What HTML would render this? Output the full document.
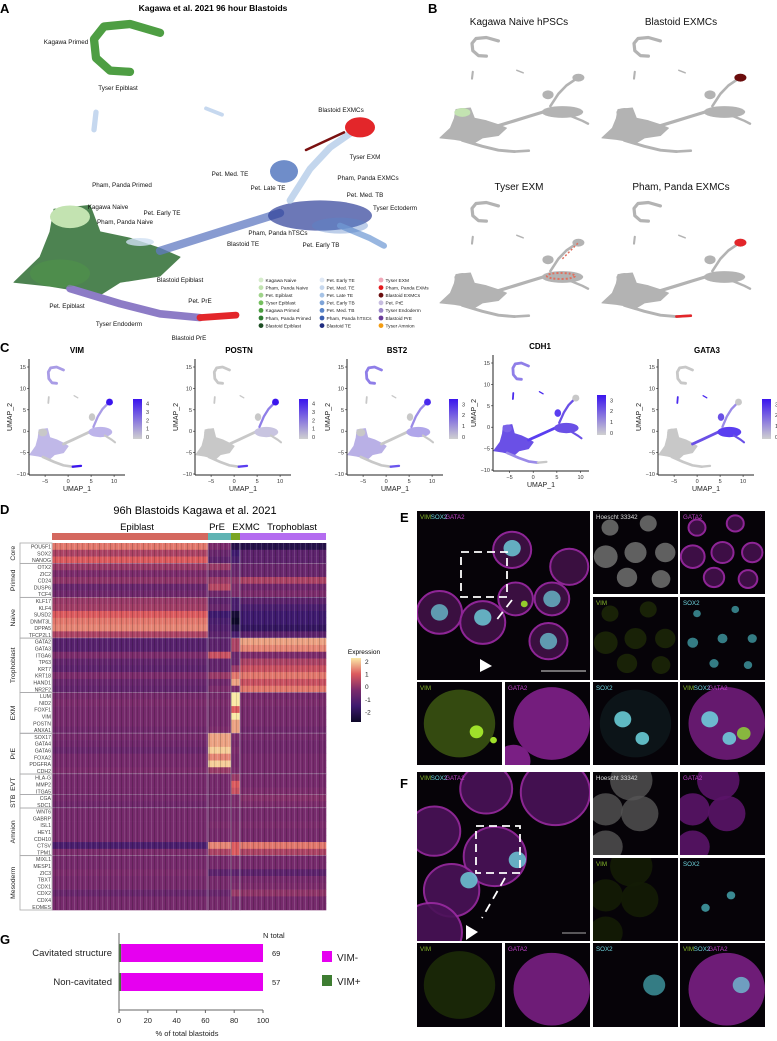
<!DOCTYPE html>
<html><head><meta charset="utf-8">
<style>
html,body{margin:0;padding:0;background:#fff;}
svg{display:block;font-family:"Liberation Sans",Arial,sans-serif;}
</style></head>
<body>
<svg id="root" width="777" height="1041" viewBox="0 0 777 1041" xmlns="http://www.w3.org/2000/svg">
<defs>
<pattern id="stripes" width="11" height="10" patternUnits="userSpaceOnUse">
<rect x="0" y="0" width="1" height="10" fill="#000" opacity="0.18"/>
<rect x="3" y="0" width="1" height="10" fill="#fff" opacity="0.10"/>
<rect x="5" y="0" width="1" height="10" fill="#000" opacity="0.12"/>
<rect x="8" y="0" width="1" height="10" fill="#fff" opacity="0.14"/>
</pattern>
<linearGradient id="cbar" x1="0" y1="1" x2="0" y2="0"><stop offset="0" stop-color="#d0d0d0"/><stop offset="1" stop-color="#3a14ee"/></linearGradient>
<linearGradient id="hbar" x1="0" y1="1" x2="0" y2="0"><stop offset="0" stop-color="#0d0828"/><stop offset="0.25" stop-color="#3e1a6e"/><stop offset="0.5" stop-color="#7c2c6c"/><stop offset="0.75" stop-color="#dc5a5e"/><stop offset="1" stop-color="#fbeaa6"/></linearGradient>
</defs>
<g id="panelA"></g>
<g id="panelB"></g>
<g id="panelC"></g>
<g id="panelD"></g>
<g id="panelEF"></g>
<g id="panelG"></g>
</svg>
<script>
const NS="http://www.w3.org/2000/svg";
function mk(parent,tag,attrs,text){const e=document.createElementNS(NS,tag);for(const k in attrs)e.setAttribute(k,attrs[k]);if(text!==undefined)e.textContent=text;parent.appendChild(e);return e;}

const umapParts=[
 {id:'arc',type:'line',w:0.55,pts:[[-1,14.3],[-2.5,15],[-3.8,14.8],[-4.3,13.8],[-4.2,12.3],[-3.5,11.3],[-2.5,11.2]]},
 {id:'epi7',type:'line',w:0.35,pts:[[-4.2,8],[-4.3,6.6]]},
 {id:'streak',type:'line',w:0.25,pts:[[1.3,8.3],[2.1,7.8]]},
 {id:'mass',type:'poly',pts:[[-8.3,-5.5],[-7,-3.5],[-6.5,-1.5],[-6.3,0.3],[-4.5,0.6],[-4,-1.5],[-2.5,-2],[-1,-2.8],[0,-3.5],[-1,-5],[-3,-5.5],[-4,-6.5],[-5,-6.2],[-6.5,-5.8]]},
 {id:'naive',type:'ell',c:[-5.5,-0.3],rx:1.0,ry:0.9},
 {id:'trail',type:'line',w:0.55,pts:[[-1,-3],[1,-2],[3,-1],[5,0]]},
 {id:'tbmass',type:'ell',c:[7,-0.2],rx:2.6,ry:1.2},
 {id:'tbtail',type:'line',w:0.4,pts:[[8,-1],[9.5,-2],[10.2,-2.6]]},
 {id:'up',type:'line',w:0.45,pts:[[5.5,1],[6.5,3.5],[7.5,5.2],[8.5,6.3]]},
 {id:'loop',type:'ell',c:[5.2,3.3],rx:0.7,ry:0.9},
 {id:'exmc',type:'ell',c:[9,6.8],rx:0.75,ry:0.8},
 {id:'prE',type:'line',w:0.5,pts:[[-5.5,-6],[-3,-7.2],[-1,-8],[1,-8.3]]},
 {id:'prEend',type:'line',w:0.45,pts:[[1,-8.3],[2.8,-8.1]]}
];
function drawUmap(g,T,colorOf,op){
 umapParts.forEach(p=>{
  const col=colorOf(p.id); if(!col) return;
  const o=op?op(p.id):1;
  if(p.type==='line'){
   const d=p.pts.map((q,i)=>(i?'L':'M')+T.x(q[0]).toFixed(1)+' '+T.y(q[1]).toFixed(1)).join(' ');
   const e=mk(g,'path',{d:d,fill:'none',stroke:col,opacity:o,'stroke-width':(p.w*Math.min(T.sx,T.sy)*1.2).toFixed(1),'stroke-linecap':'round','stroke-linejoin':'round'});
   
   
  } else if(p.type==='poly'){
   const e=mk(g,'polygon',{points:p.pts.map(q=>T.x(q[0]).toFixed(1)+','+T.y(q[1]).toFixed(1)).join(' '),fill:col,opacity:o,stroke:col,'stroke-width':1,'stroke-linejoin':'round'});
   
   
  } else {
   const e=mk(g,'ellipse',{cx:T.x(p.c[0]),cy:T.y(p.c[1]),rx:p.rx*T.sx,ry:p.ry*T.sy,fill:col,opacity:o});
   
   
  }
 });
}
function mkT(x0,sx,y0,sy){return {sx:sx,sy:sy,x:u=>x0+sx*u,y:v=>y0-sy*v};}

// ---------- Panel A ----------
const A=document.getElementById('panelA');
mk(A,'text',{x:0,y:13,'font-size':13,'font-weight':'bold'},'A');
mk(A,'text',{x:213,y:11,'font-size':8.5,'font-weight':'bold','text-anchor':'middle'},'Kagawa et al. 2021 96 hour Blastoids');
const TA=mkT(180,20,213,12.6);
const aColors={arc:'#4e9e43',epi7:'#c6d8ef',streak:'#c6d8ef',mass:'#2f6e33',naive:'#c3e3b1',trail:'#6079c2',tbmass:'#2d3f99',tbtail:'#7ea4d8',up:'#b9cfea',loop:'#4b70bb',exmc:'#e3262a',prE:'#8d7cc6',prEend:'#e3262a'};
const aOp={mass:0.85,tbmass:0.7,trail:0.75,up:0.85,loop:0.8,tbtail:0.8};
drawUmap(A,TA,id=>aColors[id],id=>aOp[id]||1);
mk(A,'ellipse',{cx:TA.x(-6),cy:TA.y(-4.8),rx:30,ry:14,fill:'#4f9a48',opacity:0.45});
mk(A,'ellipse',{cx:TA.x(8),cy:TA.y(-1),rx:28,ry:8,fill:'#5a85c8',opacity:0.4});
mk(A,'path',{d:`M${TA.x(6.3)} ${TA.y(5)} L${TA.x(8.2)} ${TA.y(6.4)}`,stroke:'#7a1010','stroke-width':2.5,'stroke-linecap':'round'});
mk(A,'ellipse',{cx:TA.x(-2),cy:TA.y(-2.3),rx:14,ry:4,fill:'#cfe0f2',opacity:0.8});
const aLabels=[["Kagawa Primed",66,44],["Tyser Epiblast",118,90],["Blastoid EXMCs",341,112],["Tyser EXM",365,159],["Pham, Panda EXMCs",368,180],["Pet. Med. TE",230,176],["Pham, Panda Primed",122,187],["Pet. Late TE",268,190],["Pet. Med. TB",365,197],["Tyser Ectoderm",395,210],["Kagawa Naive",108,209],["Pet. Early TE",162,215],["Pham, Panda Naive",125,224],["Pham, Panda hTSCs",278,235],["Blastoid TE",243,246],["Pet. Early TB",321,247],["Blastoid Epiblast",180,282],["Pet. PrE",200,303],["Pet. Epiblast",67,308],["Tyser Endoderm",119,326],["Blastoid PrE",189,340]];
aLabels.forEach(l=>{const t=mk(A,'text',{x:l[1],y:l[2],'font-size':6.3,'text-anchor':'middle',fill:'#111'},l[0]);});
const legNames=[["Kagawa Naive","Pham, Panda Naive","Pet. Epiblast","Tyser Epiblast","Kagawa Primed","Pham, Panda Primed","Blastoid Epiblast"],["Pet. Early TE","Pet. Med. TE","Pet. Late TE","Pet. Early TB","Pet. Med. TB","Pham, Panda hTSCs","Blastoid TE"],["Tyser EXM","Pham, Panda EXMs","Blastoid EXMCs","Pet. PrE","Tyser Endoderm","Blastoid PrE","Tyser Amnion"]];
const legCols=[["#d6eccb","#c1e3b0","#9fd38a","#74bf5e","#4a9e40","#2f7d32","#1c4d23"],["#dfe8f5","#c5d7ee","#a6c3e6","#7ea4d8","#5a85c8","#3a5fb0","#1f2c80"],["#f0a8b8","#e41a1c","#6b0d0d","#c7bde0","#9a86c8","#6a3d9a","#f39c12"]];
const legX=[261,322,381];
legNames.forEach((col,ci)=>col.forEach((n,ri)=>{const y=280+ri*7.6;const c=mk(A,'circle',{cx:legX[ci],cy:y,r:2.4,fill:legCols[ci][ri]});const t=mk(A,'text',{x:legX[ci]+4.5,y:y+1.8,'font-size':4.8,fill:'#222'},n);}));

// ---------- Panel B ----------
const B=document.getElementById('panelB');
mk(B,'text',{x:428,y:13,'font-size':13,'font-weight':'bold'},'B');
const bPanels=[["Kagawa Naive hPSCs",0,0,{naive:'#c3e3b1'}],["Blastoid EXMCs",162,0,{exmc:'#6b0d0d'}],["Tyser EXM",0,165,{tbmass:'#e0705f',up:'#e0705f'}],["Pham, Panda EXMCs",162,165,{exmc:'#e3262a',prEend:'#e3262a'}]];
bPanels.forEach(p=>{
 const g=mk(B,'g',{});
 mk(g,'text',{x:519+p[1],y:25+p[2],'font-size':10,'text-anchor':'middle',fill:'#111'},p[0]);
 const T=mkT(440+p[1]+8.0*8.3,8.0,36+p[2]+4.9*15.3,4.9);
 drawUmap(g,T,id=>'#b3b3b3');
 const hl=p[3];
 if(hl.tbmass){mk(g,'ellipse',{cx:T.x(6.8),cy:T.y(0),rx:14,ry:3,fill:'none',stroke:'#e0705f','stroke-width':2,'stroke-dasharray':'2 2'});mk(g,'path',{d:`M${T.x(7)} ${T.y(3.5)} L${T.x(9)} ${T.y(6.8)}`,stroke:'#e0705f','stroke-width':1.5,'stroke-dasharray':'2 2'});}
 else drawUmap(g,T,id=>hl[id]);
});

// ---------- Panel C ----------
const C=document.getElementById('panelC');
mk(C,'text',{x:0,y:352,'font-size':13,'font-weight':'bold'},'C');
const cGenes=['VIM','POSTN','BST2','CDH1','GATA3'];
const cMax=[4,4,3,3,3];
const cAxisX=[29,195,347,493,658];
const cTitleX=[77,239,397,540,707];
const cTop=[367,367,367,363,367];
const cBar=[133,299,449,597,762];
const cHi=[
 {arc:'#a99ce6',mass:'#c0b8e8',exmc:'#3a14ee',prEend:'#3a14ee',tbmass:'#bdb4ea',up:'#a99ce6'},
 {exmc:'#3a14ee',prEend:'#5a3ef0',tbmass:'#c8c4e0',up:'#8f7ee8'},
 {arc:'#8f7ee8',mass:'#b9b0e6',exmc:'#4a2aee',prEend:'#6a55ee',up:'#9a8ae8',tbmass:'#b0a6ea'},
 {arc:'#8f7ee8',mass:'#6a50e6',epi7:'#4a2aee',streak:'#4a2aee',naive:'#7a62e8',trail:'#5a3ef0',tbmass:'#6a50e6',tbtail:'#6a50e6',up:'#6a50e6',loop:'#5a3ef0',prE:'#9a8ae8'},
 {epi7:'#4a2aee',streak:'#4a2aee',trail:'#6a50e6',tbmass:'#5a3ef0',tbtail:'#6a50e6',up:'#9a8ae8',loop:'#6a50e6'}
];
cGenes.forEach((gn,i)=>{
 const g=mk(C,'g',{});
 const ax=cAxisX[i],top=cTop[i],sy=4.28,bottom=top+25*sy+1,sx=(i===3?4.73:4.6);
 mk(g,'text',{x:cTitleX[i],y:cTop[i]-14,'font-size':8,'font-weight':'bold','text-anchor':'middle'},gn);
 const T=mkT(ax+sx*8.5,sx,top+15*sy,sy);
 drawUmap(g,T,id=>(cHi[i][id]||'#c8c8c8'));
 mk(g,'line',{x1:ax,y1:top-8,x2:ax,y2:bottom,stroke:'#222','stroke-width':1});
 mk(g,'line',{x1:ax,y1:bottom,x2:ax+96,y2:bottom,stroke:'#222','stroke-width':1});
 [15,10,5,0,-5,-10].forEach(v=>{const y=T.y(v);mk(g,'line',{x1:ax-2,y1:y,x2:ax,y2:y,stroke:'#222','stroke-width':0.6});mk(g,'text',{x:ax-3,y:y+2,'font-size':5.5,'text-anchor':'end',fill:'#333'},String(v).replace('-','−'));});
 [-5,0,5,10].forEach(v=>{const x=T.x(v);mk(g,'line',{x1:x,y1:bottom,x2:x,y2:bottom+2,stroke:'#222','stroke-width':0.6});mk(g,'text',{x:x,y:bottom+8,'font-size':5.5,'text-anchor':'middle',fill:'#333'},String(v).replace('-','−'));});
 mk(g,'text',{x:ax+48,y:bottom+16,'font-size':7,'text-anchor':'middle',fill:'#222'},'UMAP_1');
 mk(g,'text',{x:ax-17,y:top+50,'font-size':7,'text-anchor':'middle',fill:'#222',transform:`rotate(-90 ${ax-17} ${top+50})`},'UMAP_2');
 const cb=cBar[i],cy0=top+32,ch=40;
 mk(g,'rect',{x:cb,y:cy0,width:9,height:ch,fill:'url(#cbar)'});
 for(let v=0;v<=cMax[i];v++){const y=cy0+ch-2-v*(ch-4)/(cMax[i]+0.3);mk(g,'text',{x:cb+13,y:y+2,'font-size':5.5,fill:'#333'},String(v));}
});

// ---------- Panel D heatmap ----------
const D=document.getElementById('panelD');
const groupNames=['Epiblast','PrE','EXMC','Trophoblast'];
const cellCounts=[156,23,9,86];
const groupColors=['#d4685f','#5fb3b3','#7aa523','#b46cf0'];
const geneSets=[['Core',['POU5F1','SOX2','NANOG']],['Primed',['OTX2','ZIC2','CD24','DUSP6','TCF4']],['Naive',['KLF17','KLF4','SUSD2','DNMT3L','DPPA5','TFCP2L1']],['Trophoblast',['GATA2','GATA3','ITGA6','TP63','KRT7','KRT18','HAND1','NR2F2']],['EXM',['LUM','NID2','FOXF1','VIM','POSTN','ANXA1']],['PrE',['SOX17','GATA4','GATA6','FOXA2','PDGFRA','CDH2']],['EVT',['HLA-G','MMP2','ITGA5']],['STB',['CGA','SDC1']],['Amnion',['WNT6','GABRP','ISL1','HEY1','CDH10','CTSV','TPM1']],['Mesoderm',['MIXL1','MESP1','ZIC3','TBXT','CDX1','CDX2','CDX4','EOMES']]];
const exprValues=[
[1.2,0,-1.5,-1.5],[0.5,-0.3,-1,-0.5],[1,-0.5,-0.8,-0.5],
[0.3,0.3,-0.3,-0.3],[0,-0.2,-0.3,-0.3],[0.2,0.3,0.2,0.5],[-0.3,0.6,0,-0.2],[-0.2,-0.2,0,0],
[0.3,-0.5,-0.8,-0.5],[0.4,-0.3,-0.8,-0.8],[1,-1,-1.8,-1],[1.2,-0.8,-2,-1],[1.3,-0.7,-1.5,-1.2],[0.5,-0.5,-0.8,-0.5],
[-0.6,-0.5,0.5,1.5],[-0.6,-0.5,0.5,1.3],[0,0.8,-0.3,0],[-0.4,-0.4,-0.3,0.5],[-0.5,-0.4,0.3,0.8],[0,0.3,1.2,1.2],[-0.3,-0.2,1.5,0.8],[-0.4,0,0,1.2],
[-0.1,-0.1,2,-0.1],[0,0,2.3,0],[-0.1,-0.1,1,-0.1],[-0.1,-0.1,2.2,-0.1],[-0.1,-0.1,1.5,-0.1],[-0.2,0,1.5,-0.2],
[-0.1,1.5,0,-0.1],[-0.2,1.5,-0.1,-0.2],[-0.3,1.8,0,-0.2],[-0.1,1.3,-0.1,-0.1],[-0.1,1.8,-0.1,-0.1],[0,0.3,0,-0.1],
[-0.1,-0.1,0.3,-0.1],[-0.1,-0.1,1,-0.1],[-0.1,-0.1,0.8,0],
[-0.1,-0.1,0,0.1],[-0.2,-0.1,0,0],
[-0.1,-0.1,-0.1,-0.1],[-0.1,-0.1,-0.1,-0.1],[-0.1,0,0,0],[-0.1,-0.1,0,-0.1],[-0.1,-0.1,0,-0.1],[-0.8,1.3,1,1.2],[0,0.5,1,0.5],
[-0.1,-0.1,0,-0.1],[-0.1,-0.1,0,-0.1],[0,-0.5,-0.5,-0.5],[-0.1,-0.1,-0.1,-0.1],[-0.1,-0.1,0,0],[-0.3,-0.3,0.3,0.2],[-0.1,-0.1,-0.1,-0.1],[-0.1,-0.1,-0.1,-0.1]];
const expTicks=[2,1,0,-1,-2];
const stops=[[-2,[13,8,40]],[-1,[62,26,110]],[0,[124,44,108]],[1,[220,90,94]],[2,[251,234,166]]];
function cmap(v){v=Math.max(-2,Math.min(2,v));for(let i=0;i<4;i++){const a=stops[i],b=stops[i+1];if(v<=b[0]){const t=(v-a[0])/(b[0]-a[0]);return 'rgb('+a[1].map((c,k)=>Math.round(c+(b[1][k]-c)*t)).join(',')+')';}}return 'rgb(251,234,166)';}
mk(D,'text',{x:0,y:514,'font-size':13,'font-weight':'bold'},'D');
mk(D,'text',{x:195,y:514,'font-size':11,'text-anchor':'middle'},'96h Blastoids Kagawa et al. 2021');
const hx0=52,hx1=326,hy0=543,rowH=(910-543)/54;
const totalCells=cellCounts.reduce((a,b)=>a+b,0);
const colX=c=>hx0+(hx1-hx0)*c/totalCells;
const bounds=[0];cellCounts.forEach(c=>bounds.push(bounds[bounds.length-1]+c));
groupNames.forEach((n,i)=>{
 const r=mk(D,'rect',{x:colX(bounds[i]),y:533,width:colX(bounds[i+1])-colX(bounds[i]),height:7,fill:groupColors[i]});
});
const gLab=[['Epiblast',137],['PrE',217],['EXMC',246],['Trophoblast',292]];
gLab.forEach(l=>mk(D,'text',{x:l[1],y:530,'font-size':9.5,'text-anchor':'middle'},l[0]));
let row=0;
geneSets.forEach(([set,genes])=>{
 const yStart=hy0+row*rowH;
 genes.forEach(gn=>{
  const y=hy0+row*rowH;
  for(let gi=0;gi<4;gi++){
   const c=mk(D,'rect',{x:colX(bounds[gi]).toFixed(2),y:y.toFixed(2),width:(colX(bounds[gi+1])-colX(bounds[gi])+0.3).toFixed(2),height:(rowH+0.3).toFixed(2),fill:cmap(exprValues[row][gi])});
   
   
  }
  const t=mk(D,'text',{x:51,y:y+rowH-1.2,'font-size':5.2,'text-anchor':'end',fill:'#444'},gn);
  
  
  row++;
 });
 const yEnd=hy0+row*rowH;
 mk(D,'rect',{x:20,y:yStart,width:32,height:yEnd-yStart,fill:'none',stroke:'#aaa','stroke-width':0.8});
 const ym=(yStart+yEnd)/2;
 mk(D,'text',{x:15,y:ym,'font-size':6.8,'text-anchor':'middle',fill:'#222',transform:`rotate(-90 15 ${ym})`},set);
 if(row<54) mk(D,'line',{x1:20,y1:yEnd,x2:hx1,y2:yEnd,stroke:'#b9b9c6','stroke-width':0.8});
});
mk(D,'rect',{x:hx0,y:hy0,width:hx1-hx0,height:54*rowH,fill:'url(#stripes)'});
for(let i=1;i<4;i++) mk(D,'line',{x1:colX(bounds[i]),y1:hy0,x2:colX(bounds[i]),y2:910,stroke:'#a9a9b8','stroke-width':0.6});
mk(D,'text',{x:364,y:654,'font-size':6.5,'text-anchor':'middle'},'Expression');
mk(D,'rect',{x:351,y:658,width:10,height:64,fill:'url(#hbar)'});
expTicks.forEach((v,i)=>mk(D,'text',{x:365,y:664+i*12.6,'font-size':6.5,fill:'#222'},String(v)));

// ---------- Panels E & F ----------
const EF=document.getElementById('panelEF');
function tile(x,y,w,h,name,label,blobs){
 const g=mk(EF,'g',{});
 
 
 mk(g,'rect',{x:x,y:y,width:w,height:h,fill:'#060308'});
 const cp='c'+Math.round(x)+'_'+Math.round(y);
 const clip=mk(g,'clipPath',{id:cp});mk(clip,'rect',{x:x,y:y,width:w,height:h});
 const inner=mk(g,'g',{'clip-path':`url(#${cp})`});
 blobs.forEach(b=>{const e=mk(inner,'ellipse',{cx:x+b[0]*w,cy:y+b[1]*h,rx:b[2]*w,ry:b[2]*w*0.95,fill:b[3],opacity:b[4]===undefined?1:b[4]});if(b[5])e.setAttribute('stroke',b[5]),e.setAttribute('stroke-width',b[6]);});
 let lx=x+3;
 label.forEach(p=>{const t=mk(g,'text',{x:lx,y:y+8,'font-size':6.2,fill:p[1]},p[0]);lx+=p[0].length*3.6;});
 return g;
}
const CY='#6fd6e0';
const mergeLab=[['VIM','#86b82a'],['SOX2','#6fd6e0'],['GATA2','#c040c8']];
const eBlobs=[[0.55,0.23,0.11],[0.88,0.33,0.11],[0.13,0.6,0.13],[0.38,0.66,0.13],[0.57,0.52,0.1],[0.78,0.52,0.1],[0.76,0.77,0.11]];
function tint(bl,col,op,stroke){return bl.map(b=>[b[0],b[1],b[2],col,op,stroke,stroke?2:0]);}
tile(417,511,173,169,'e-merge-overview',mergeLab,[...tint(eBlobs,'#3a0f40',1,'#8e2596'),[0.55,0.22,0.05,CY,0.8],[0.38,0.63,0.05,CY,0.8],[0.13,0.6,0.05,CY,0.7],[0.78,0.52,0.05,CY,0.7],[0.76,0.77,0.05,CY,0.7],[0.62,0.55,0.02,'#9fe02a',0.9]]);
mk(EF,'rect',{x:461,y:552,width:46,height:45,fill:'none',stroke:'#fff','stroke-width':1.8,'stroke-dasharray':'8 5'});
mk(EF,'line',{x1:512,y1:600,x2:495,y2:622,stroke:'#fff','stroke-width':1.8,'stroke-dasharray':'9 6'});
mk(EF,'polygon',{points:'480,659 480,672 492,666',fill:'#fff'});
mk(EF,'line',{x1:541,y1:671,x2:586,y2:671,stroke:'#ddd','stroke-width':1});
const sBlobs=[[0.2,0.2,0.1],[0.65,0.15,0.1],[0.15,0.55,0.14],[0.5,0.5,0.13],[0.85,0.5,0.12],[0.4,0.8,0.12],[0.8,0.82,0.11]];
tile(593,511,85,83,'e-hoechst',[['Hoescht 33342','#ddd']],tint(sBlobs,'#6a6a6a',0.9));
tile(680,511,85,83,'e-gata2',[['GATA2','#c040c8']],tint(sBlobs,'#3d0e45',1,'#8e2596'));
tile(593,597,85,83,'e-vim',[['VIM','#86b82a']],tint(sBlobs,'#1c2608',0.9));
tile(680,597,85,83,'e-sox2',[['SOX2','#6fd6e0']],sBlobs.map(b=>[b[0],b[1],b[2]*0.45,'#3a8a92',0.9]));
tile(417,682,85,83,'e-zoom-vim',[['VIM','#86b82a']],[[0.5,0.5,0.42,'#3a5212',0.9],[0.7,0.6,0.08,'#9fe02a'],[0.9,0.7,0.04,'#9fe02a']]);
tile(505,682,85,83,'e-zoom-gata2',[['GATA2','#c040c8']],[[0.55,0.5,0.45,'#7a1f84',0.95],[0.1,0.95,0.2,'#7a1f84']]);
tile(593,682,85,83,'e-zoom-sox2',[['SOX2','#6fd6e0']],[[0.5,0.5,0.42,'#0c1418'],[0.35,0.45,0.1,CY,0.85],[0.58,0.68,0.08,CY,0.85]]);
tile(680,682,85,83,'e-zoom-merge',mergeLab,[[0.55,0.5,0.45,'#6a1a74',0.95],[0.35,0.45,0.1,CY,0.85],[0.58,0.68,0.08,CY,0.85],[0.75,0.62,0.08,'#8cc83a',0.9]]);
const fBlobs=[[0.8,0.12,0.2],[0.45,0.5,0.18],[0.2,0.7,0.16],[0.1,0.35,0.15],[0.08,0.95,0.18],[0.4,0.1,0.15]];
tile(417,772,173,169,'f-merge-overview',mergeLab,[...tint(fBlobs,'#4a1258',0.9,'#9a2aa2'),[0.58,0.52,0.05,CY,0.8],[0.3,0.64,0.05,CY,0.8]]);
mk(EF,'rect',{x:476,y:826,width:44,height:47,fill:'none',stroke:'#fff','stroke-width':1.8,'stroke-dasharray':'8 5'});
mk(EF,'line',{x1:505,y1:878,x2:482,y2:918,stroke:'#fff','stroke-width':1.8,'stroke-dasharray':'9 6'});
mk(EF,'polygon',{points:'466,925 466,940 478,932',fill:'#fff'});
mk(EF,'line',{x1:562,y1:933,x2:586,y2:933,stroke:'#aaa','stroke-width':1});
const fs=[[0.45,0.1,0.25],[0.55,0.5,0.22],[0.15,0.45,0.2],[0.15,0.9,0.2]];
tile(593,772,85,83,'f-hoechst',[['Hoescht 33342','#ddd']],tint(fs,'#555',0.8));
tile(680,772,85,83,'f-gata2',[['GATA2','#c040c8']],tint(fs,'#5a1468',0.9));
tile(593,858,85,83,'f-vim',[['VIM','#86b82a']],tint(fs,'#141c06',0.9));
tile(680,858,85,83,'f-sox2',[['SOX2','#6fd6e0']],[[0.6,0.45,0.05,'#3a8a92'],[0.3,0.6,0.05,'#3a8a92']]);
tile(417,943,85,84,'f-zoom-vim',[['VIM','#86b82a']],[[0.5,0.5,0.42,'#1c2a08',0.9]]);
tile(505,943,85,84,'f-zoom-gata2',[['GATA2','#c040c8']],[[0.55,0.55,0.45,'#7a1f84',0.9]]);
tile(593,943,85,84,'f-zoom-sox2',[['SOX2','#6fd6e0']],[[0.72,0.5,0.13,'#3a8a92',0.9]]);
tile(680,943,85,84,'f-zoom-merge',mergeLab,[[0.55,0.55,0.45,'#7a1f84',0.9],[0.72,0.5,0.1,CY,0.7]]);
mk(EF,'text',{x:400,y:522,'font-size':13,'font-weight':'bold'},'E');
mk(EF,'text',{x:400,y:788,'font-size':13,'font-weight':'bold'},'F');

// ---------- Panel G ----------
const G=document.getElementById('panelG');
const gCategories=['Cavitated structure','Non-cavitated'];
const vimPos=[1.5,1.5];
const vimNeg=[98.5,98.5];
const nTotals=[69,57];
const gTicks=[0,20,40,60,80,100];
mk(G,'text',{x:0,y:944,'font-size':13,'font-weight':'bold'},'G');
const gx=v=>119+v*1.44;
const barTop=[944,973];
gCategories.forEach((c,i)=>{
 const y=barTop[i];
 const r1=mk(G,'rect',{x:gx(0),y:y,width:gx(vimPos[i])-gx(0),height:18,fill:'#3e7d32'});
 
 
 const r2=mk(G,'rect',{x:gx(vimPos[i]),y:y,width:gx(vimPos[i]+vimNeg[i])-gx(vimPos[i]),height:18,fill:'#e600f0'});
 
 
 mk(G,'text',{x:112,y:y+12,'font-size':9.5,'text-anchor':'end',fill:'#222'},c);
 mk(G,'text',{x:272,y:y+12,'font-size':7.5,fill:'#222'},String(nTotals[i]));
});
mk(G,'text',{x:263,y:938,'font-size':7.5,fill:'#222'},'N total');
mk(G,'line',{x1:119,y1:933,x2:119,y2:1010,stroke:'#666','stroke-width':1});
mk(G,'line',{x1:119,y1:1010,x2:gx(100),y2:1010,stroke:'#666','stroke-width':1});
gTicks.forEach(v=>{mk(G,'line',{x1:gx(v),y1:1010,x2:gx(v),y2:1013,stroke:'#666','stroke-width':1});mk(G,'text',{x:gx(v),y:1023,'font-size':7.5,'text-anchor':'middle',fill:'#222'},String(v));});
mk(G,'text',{x:187,y:1036,'font-size':7.5,'text-anchor':'middle',fill:'#222'},'% of total blastoids');
mk(G,'rect',{x:322,y:951,width:10,height:11,fill:'#e600f0'});
mk(G,'text',{x:337,y:961,'font-size':10,fill:'#222'},'VIM-');
mk(G,'rect',{x:322,y:975,width:10,height:11,fill:'#3e7d32'});
mk(G,'text',{x:337,y:985,'font-size':10,fill:'#222'},'VIM+');
</script>
</body></html>
